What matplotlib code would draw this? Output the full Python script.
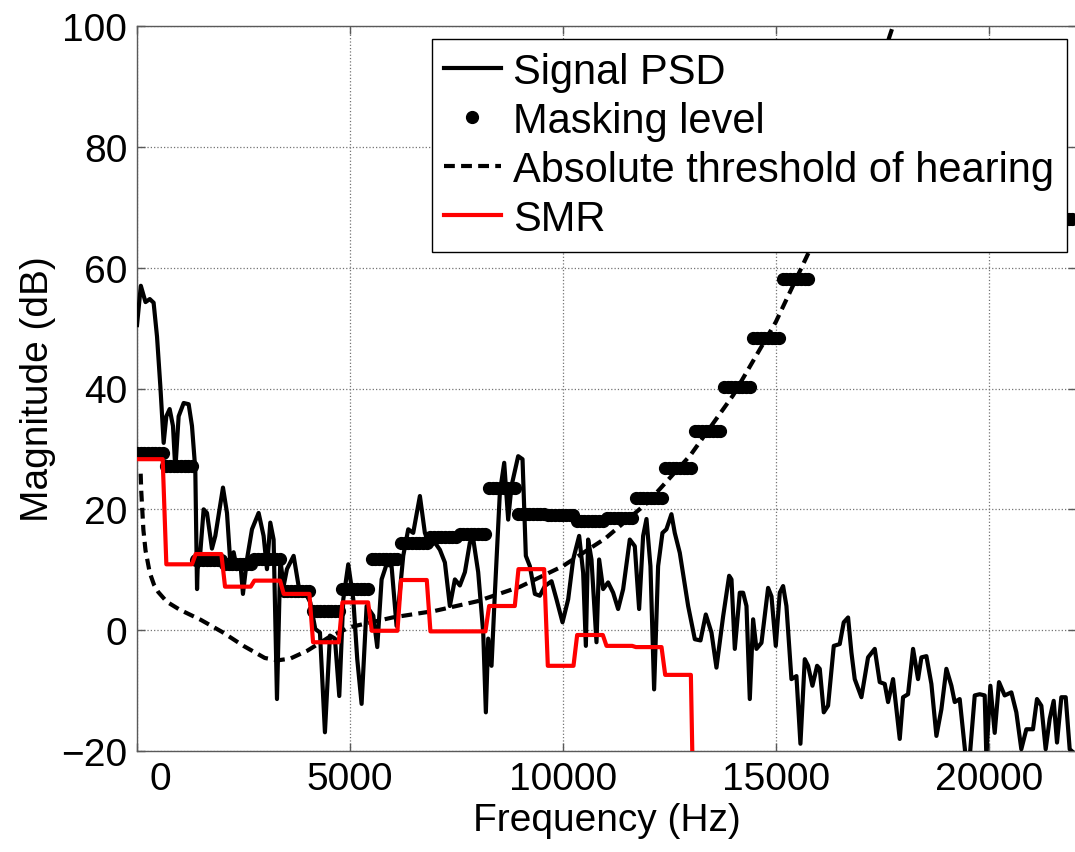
import matplotlib
matplotlib.use("Agg")
from matplotlib import pyplot as plt
from matplotlib.transforms import ScaledTranslation
import numpy as np

plt.rcParams['font.family'] = ['Liberation Sans', 'DejaVu Sans']

# signal PSD (Hz, dB)
sig_freq = [0, 90, 200, 300, 390, 470, 548, 626, 689, 767, 845, 900, 978, 1096, 1213,
            1291, 1369, 1410, 1424, 1487, 1565, 1643, 1760, 1839, 2019, 2113, 2191, 2269,
            2348, 2426, 2488, 2582, 2700, 2856, 2973, 3052, 3130, 3208, 3287, 3365, 3443,
            3521, 3678, 3795, 3913, 4069, 4186, 4296, 4413, 4531, 4648, 4750, 4844, 4961,
            5079, 5172, 5274, 5392, 5548, 5642, 5744, 5861, 5978, 6095, 6252, 6369, 6486,
            6643, 6760, 6878, 6995, 7113, 7230, 7347, 7465, 7582, 7700, 7817, 7895, 8012,
            8130, 8192, 8247, 8325, 8403, 8521, 8623, 8716, 8795, 8951, 9053, 9131, 9225,
            9343, 9460, 9577, 9734, 9851, 9992, 10125, 10242, 10383, 10477, 10540, 10594,
            10672, 10790, 10852, 10946, 11063, 11181, 11298, 11416, 11572, 11689, 11791,
            11885, 11964, 12057, 12143, 12237, 12339, 12432, 12550, 12628, 12746, 12942,
            13099, 13232, 13357, 13490, 13607, 13764, 13905, 13960, 14038, 14155, 14233,
            14312, 14390, 14468, 14546, 14664, 14820, 14899, 15000, 15094, 15172, 15250,
            15368, 15485, 15579, 15681, 15759, 15861, 15970, 16033, 16127, 16228, 16362,
            16502, 16596, 16698, 16776, 16854, 17011, 17167, 17324, 17441, 17559, 17637,
            17754, 17911, 17989, 18106, 18224, 18341, 18420, 18537, 18654, 18772, 18889,
            19006, 19124, 19202, 19319, 19460, 19554, 19672, 19789, 19906, 19945, 20039,
            20141, 20242, 20375, 20532, 20649, 20766, 20884, 21040, 21134, 21236, 21338,
            21432, 21526, 21604, 21706, 21808, 21902, 21980]
sig_db = [50.5, 57.0, 54.3, 54.8, 54.2, 48.6, 40.4, 31.0, 35.4, 36.6, 33.8, 26.6, 35.4, 37.6,
          37.4, 33.8, 26.6, 6.8, 10.1, 12.9, 20.0, 19.4, 13.5, 15.6, 23.6, 19.4, 11.2, 12.9,
          10.1, 11.2, 6.0, 11.7, 16.7, 19.4, 15.6, 10.1, 17.8, 15.0, -11.4, 11.7, 7.3,
          10.1, 12.3, 7.3, 6.8, 4.6, 0.2, -0.4, -16.9, -0.9, -1.4, -10.9, 5.1, 10.9,
          5.1, -4.8, -12.2, 4.0, 2.4, -2.8, 8.4, 10.9, 10.6, 0.7, 12.3, 16.7, 16.1,
          22.2, 16.1, 13.9, 14.5, 13.3, 11.2, 4.0, 8.4, 7.4, 9.6, 14.5, 15.1, 9.6,
          -0.4, -13.6, -1.4, -5.9, 6.0, 22.8, 27.7, 18.3, 23.9, 28.8, 28.3, 12.3, 10.6,
          6.0, 5.7, 7.3, 8.1, 5.1, 1.3, 5.1, 11.7, 15.6, 9.5, -2.6, 15.0,
          11.7, -2.0, 11.7, 6.8, 7.9, 6.2, 3.5, 6.8, 15.0, 13.9, 3.5,
          15.6, 18.4, 10.6, -9.8, 10.6, 16.1, 16.7, 19.2, 16.1, 12.8, 4.0,
          -1.5, -1.7, 2.6, -0.4, -6.2, 2.3, 9.0, 8.4, -3.1, 6.2, 6.2,
          4.0, -11.4, 1.8, -3.1, -2.1, 7.0, 5.6, -2.6, 6.2, 7.3, 4.0,
          -8.1, -7.6, -18.8, -4.8, -5.9, -9.2, -5.9, -6.4, -13.6, -12.5, -2.6,
          -2.3, 1.3, 2.1, -3.7, -8.1, -11.1, -4.5, -3.1, -8.6, -8.9, -11.9,
          -8.1, -18.0, -11.1, -10.6, -3.1, -8.1, -4.5, -4.3, -8.9, -17.5, -13.1,
          -6.4, -9.2, -11.9, -11.4, -21.0, -21.0, -10.8, -10.6, -10.8, -21.0, -9.2,
          -17.0, -8.6, -10.8, -10.3, -13.6, -19.7, -16.4, -16.4, -11.4, -12.5, -19.7,
          -14.7, -11.7, -18.6, -11.1, -11.1, -19.7, -20.2]

# masking level and SMR, one value per subband (32 subbands)
mask_sb = [29.4, 27.2, 11.6, 11.0, 11.7, 6.5, 3.2, 6.8, 11.8, 14.4, 15.5, 16.0, 23.6,
           19.3, 19.1, 18.1, 18.6, 21.9, 26.9, 32.9, 40.2, 48.4, 58.2, 68, 68, 68, 68,
           68, 68, 68, 68, 68]
smr_sb = [28.3, 10.9, 12.6, 7.2, 8.2, 6.0, -2.0, 4.6, -0.1, 8.3, -0.2, -0.2, 4.0, 10.1,
          -5.9, -0.8, -2.6, -2.8, -7.4, -40, -40, -40, -40, -40, -40, -40, -40, -40,
          -40, -40, -40, -40]

# absolute threshold of hearing
ath_freq = [86, 100, 150, 200, 300, 400, 500, 700, 1000, 1500, 2000, 2500, 3000, 3300,
            3600, 4000, 4500, 5000, 6000, 7000, 8000, 9000, 10000, 11000, 12000, 13000,
            14000, 15000, 16000, 17000, 18000]
ath_db = [25.9, 23.0, 16.6, 13.2, 9.5, 7.5, 6.3, 4.7, 3.4, 1.7, -0.3, -2.6, -4.6, -5.0,
          -4.7, -3.4, -1.2, 0.5, 2.1, 3.2, 4.8, 7.2, 10.6, 15.2, 21.2, 29.0,
          38.9, 51.0, 65.9, 83.9, 105.3]

bins = np.arange(256) * 44100 / 512
mask = np.repeat(mask_sb, 8)
smr = np.repeat(smr_sb, 8)

fig = plt.figure(figsize=(10.75, 8.53), dpi=100)
ax = fig.add_axes([137 / 1075, 101 / 853, 939 / 1075, 725 / 853])

ax.plot(sig_freq, sig_db, color='black', lw=3, label='Signal PSD', zorder=3)
ax.plot(bins, mask, linestyle='none', marker='o', ms=8.5, color='black',
        label='Masking level', zorder=4)
ax.plot(ath_freq, ath_db, color='black', lw=3, dashes=(2.6, 1.5),
        label='Absolute threshold of hearing', zorder=3)
ax.plot(bins, smr, color='red', lw=3, label='SMR', zorder=5)

ax.set_xlim(0, 22050)
ax.set_ylim(-20, 100)
ax.set_xticks([0, 5000, 10000, 15000, 20000])
ax.set_yticks([-20, 0, 20, 40, 60, 80, 100])
ax.grid(True, color='0.45', linestyle=':', linewidth=0.9)
ax.tick_params(direction='in', length=6, width=1, color='0.35', labelsize=28,
               top=True, right=True, pad=7)
for s in ax.spines.values():
    s.set_color('0.35')
    s.set_linewidth(1)

ax.set_xlabel('Frequency (Hz)', fontsize=28, labelpad=4)
ax.set_ylabel('Magnitude (dB)', fontsize=28, labelpad=4)

leg = ax.legend(loc='upper right', bbox_to_anchor=(0.990, 0.982), borderaxespad=0,
                fontsize=30, fancybox=False, framealpha=1, edgecolor='black',
                labelspacing=0.22, handlelength=1.35, handletextpad=0.3, borderpad=0.3,
                numpoints=1)
leg.get_frame().set_linewidth(1)
leg.set_zorder(10)

# the zero label sits a little to the right in the original
fig.canvas.draw()
t0 = ax.xaxis.get_major_ticks()[0]
t0.label1.set_transform(t0.label1.get_transform() +
                        ScaledTranslation(0.23, 0, fig.dpi_scale_trans))

fig.savefig('out.png', dpi=100)
